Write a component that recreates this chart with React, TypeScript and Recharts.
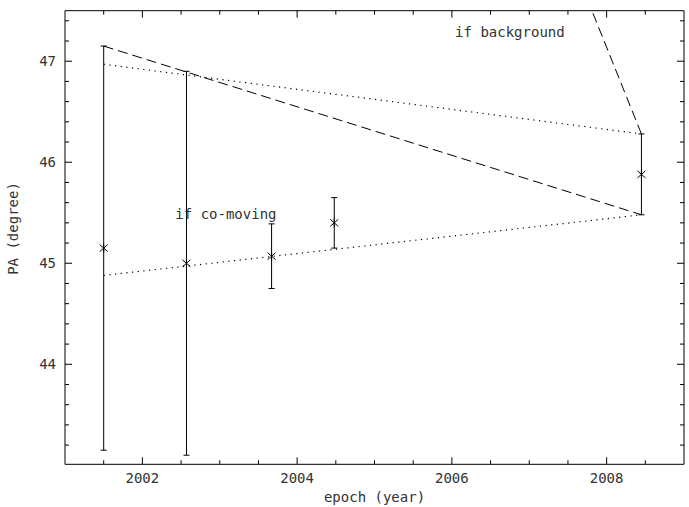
import { ComposedChart, Line, Scatter, ErrorBar, XAxis, YAxis, ReferenceDot } from 'recharts';

// measured epochs, position angles and 1-sigma errors
const epochs = [2001.5, 2002.57, 2003.67, 2004.48, 2008.45];
const paValues = [45.15, 45.0, 45.07, 45.4, 45.88];
const paErrors = [2.0, 1.9, 0.32, 0.25, 0.4];

// predicted tracks
const bgTrackX = [2001.5, 2008.45];
const bgTrackY = [47.15, 45.48];
const bgTrack2X = [2008.45, 2007.81];
const bgTrack2Y = [46.28, 47.5];
const comoveUpperX = [2001.5, 2008.45];
const comoveUpperY = [46.97, 46.28];
const comoveLowerX = [2001.5, 2008.45];
const comoveLowerY = [44.88, 45.48];

// axis ticks
const xTicks = [2001.5, 2002, 2002.5, 2003, 2003.5, 2004, 2004.5, 2005, 2005.5, 2006, 2006.5, 2007, 2007.5, 2008, 2008.5];
const xMajor = [2002, 2004, 2006, 2008];
const yTicks = [43.2, 43.4, 43.6, 43.8, 44, 44.2, 44.4, 44.6, 44.8, 45, 45.2, 45.4, 45.6, 45.8, 46, 46.2, 46.4, 46.6, 46.8, 47, 47.2, 47.4];
const yMajor = [44, 45, 46, 47];

const FONT = '"DejaVu Sans Mono", monospace';
const INK = '#000';
const TEXT = '#333';

const points = epochs.map((x, i) => ({ x, y: paValues[i], err: paErrors[i] }));
const toLine = (xs: number[], ys: number[]) => xs.map((x, i) => ({ x, y: ys[i] }));

const isMajor = (list: number[], v: number) => list.some(m => Math.abs(m - v) < 1e-6);

function BottomTick({ x, y, payload }: any) {
  const major = isMajor(xMajor, payload.value);
  return (
    <g>
      <line x1={x} x2={x} y1={y} y2={y - (major ? 7 : 4)} stroke={INK} />
      {major && (
        <text x={x} y={y + 19} textAnchor="middle" fontSize={14} fontFamily={FONT} fill={TEXT}>
          {payload.value}
        </text>
      )}
    </g>
  );
}

function TopTick({ x, y, payload }: any) {
  const major = isMajor(xMajor, payload.value);
  return <line x1={x} x2={x} y1={y} y2={y + (major ? 7 : 4)} stroke={INK} />;
}

function LeftTick({ x, y, payload }: any) {
  const major = isMajor(yMajor, payload.value);
  return (
    <g>
      <line x1={x} x2={x + (major ? 7 : 4)} y1={y} y2={y} stroke={INK} />
      {major && (
        <text x={x - 9} y={y + 5} textAnchor="end" fontSize={14} fontFamily={FONT} fill={TEXT}>
          {payload.value}
        </text>
      )}
    </g>
  );
}

function RightTick({ x, y, payload }: any) {
  const major = isMajor(yMajor, payload.value);
  return <line x1={x} x2={x - (major ? 7 : 4)} y1={y} y2={y} stroke={INK} />;
}

function Star({ cx, cy }: any) {
  return (
    <g stroke={INK} strokeWidth={1}>
      <line x1={cx} y1={cy - 4.5} x2={cx} y2={cy + 4.5} />
      <line x1={cx - 4} y1={cy - 3.5} x2={cx + 4} y2={cy + 3.5} />
      <line x1={cx - 4} y1={cy + 3.5} x2={cx + 4} y2={cy - 3.5} />
    </g>
  );
}

function YLabel({ viewBox }: any) {
  const cx = viewBox.x + 13;
  const cy = viewBox.y + viewBox.height / 2 - 9;
  return (
    <text x={cx} y={cy} transform={`rotate(-90 ${cx} ${cy})`} textAnchor="middle" dominantBaseline="central"
      fontSize={14} fontFamily={FONT} fill={TEXT}>
      PA (degree)
    </text>
  );
}

function XLabel({ viewBox }: any) {
  const cx = viewBox.x + viewBox.width / 2;
  const cy = viewBox.y + 33;
  return (
    <text x={cx} y={cy} textAnchor="middle" dominantBaseline="central" fontSize={14} fontFamily={FONT} fill={TEXT}>
      epoch (year)
    </text>
  );
}

export default function App() {
  return (
    <div style={{ position: 'absolute', left: 0, top: 0, background: '#fff' }}>
      <ComposedChart width={689} height={507} margin={{ top: 0.7, right: 0, bottom: 0, left: 0 }}>
        <XAxis xAxisId="bottom" dataKey="x" type="number" domain={[2001, 2009]} ticks={xTicks} interval={0}
          orientation="bottom" height={42.7} tickSize={0} tickMargin={0} tickLine={false}
          axisLine={{ stroke: INK }} tick={<BottomTick />} label={<XLabel />} allowDataOverflow />
        <XAxis xAxisId="top" dataKey="x" type="number" domain={[2001, 2009]} ticks={xTicks} interval={0}
          orientation="top" height={10} tickSize={0} tickMargin={0} tickLine={false}
          axisLine={{ stroke: INK }} tick={<TopTick />} allowDataOverflow />
        <YAxis yAxisId="left" dataKey="y" type="number" domain={[43.01, 47.5]} ticks={yTicks} interval={0}
          orientation="left" width={65} tickSize={0} tickMargin={0} tickLine={false}
          axisLine={{ stroke: INK }} tick={<LeftTick />} label={<YLabel />} allowDataOverflow />
        <YAxis yAxisId="right" dataKey="y" type="number" domain={[43.01, 47.5]} ticks={yTicks} interval={0}
          orientation="right" width={5} tickSize={0} tickMargin={0} tickLine={false}
          axisLine={{ stroke: INK }} tick={<RightTick />} allowDataOverflow />

        <Line xAxisId="bottom" yAxisId="left" data={toLine(bgTrackX, bgTrackY)} dataKey="y" stroke={INK}
          strokeWidth={1} strokeDasharray="10 5" dot={false} activeDot={false} isAnimationActive={false} />
        <Line xAxisId="bottom" yAxisId="left" data={toLine(bgTrack2X, bgTrack2Y)} dataKey="y" stroke={INK}
          strokeWidth={1} strokeDasharray="10 5" dot={false} activeDot={false} isAnimationActive={false} />
        <Line xAxisId="bottom" yAxisId="left" data={toLine(comoveUpperX, comoveUpperY)} dataKey="y" stroke={INK}
          strokeWidth={1.2} strokeDasharray="1.2 4.5" dot={false} activeDot={false} isAnimationActive={false} />
        <Line xAxisId="bottom" yAxisId="left" data={toLine(comoveLowerX, comoveLowerY)} dataKey="y" stroke={INK}
          strokeWidth={1.2} strokeDasharray="1.2 4.5" dot={false} activeDot={false} isAnimationActive={false} />

        <Scatter xAxisId="bottom" yAxisId="left" data={points} dataKey="y" shape={<Star />} isAnimationActive={false}>
          <ErrorBar dataKey="err" direction="y" width={3} stroke={INK} strokeWidth={1} isAnimationActive={false} />
        </Scatter>

        <ReferenceDot xAxisId="bottom" yAxisId="left" x={2006.75} y={47.29} r={0} fill="none" stroke="none"
          label={{ value: 'if background', position: 'center', fontSize: 14, fontFamily: FONT, fill: TEXT }} />
        <ReferenceDot xAxisId="bottom" yAxisId="left" x={2003.08} y={45.49} r={0} fill="none" stroke="none"
          label={{ value: 'if co-moving', position: 'center', fontSize: 14, fontFamily: FONT, fill: TEXT }} />
      </ComposedChart>
    </div>
  );
}
